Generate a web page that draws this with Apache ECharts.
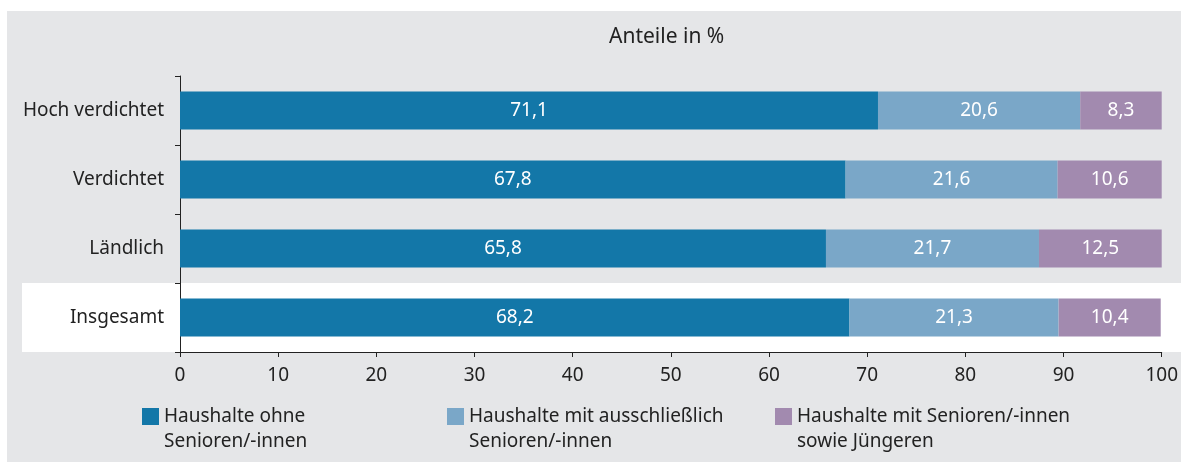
<!DOCTYPE html>
<html>
<head>
<meta charset="utf-8">
<script src="https://cdn.jsdelivr.net/npm/echarts@6/dist/echarts.min.js"></script>
<style>
  html, body { margin: 0; padding: 0; background: #fff; }
  #chart { width: 1181px; height: 462px; }
</style>
</head>
<body>
<div id="chart"></div>
<script>
// Kategorien (von oben nach unten)
var categories = ['Hoch verdichtet', 'Verdichtet', 'Ländlich', 'Insgesamt']
var seriesNames = [
  'Haushalte ohne\nSenioren/-innen',
  'Haushalte mit ausschließlich\nSenioren/-innen',
  'Haushalte mit Senioren/-innen\nsowie Jüngeren'
]
var ohneSenioren = [71.1, 67.8, 65.8, 68.2]
var nurSenioren = [20.6, 21.6, 21.7, 21.3]
var gemischt = [8.3, 10.6, 12.5, 10.4]
var xTicks = [0, 10, 20, 30, 40, 50, 60, 70, 80, 90, 100]

var colors = ['#1377a8', '#7aa7c8', '#a28aaf']
var textColor = '#222'
var fontFamily = '"Noto Sans", sans-serif'

var chart = echarts.init(document.getElementById('chart'))

function barSeries(name, data, color) {
  return {
    name: name,
    type: 'bar',
    stack: 'total',
    data: data,
    barWidth: 38,
    itemStyle: { color: color },
    label: {
      show: true,
      position: 'inside',
      color: '#fff',
      fontSize: 19,
      fontFamily: fontFamily,
      formatter: function (p) {
        return p.value.toFixed(1).replace('.', ',')
      }
    },
    animation: false
  }
}

// leere erste Zeile, damit das Quadrat auf Höhe der ersten Textzeile sitzt
function legendItem(name, left) {
  return {
    data: [{ name: name, icon: 'rect' }],
    left: left,
    top: 379,
    padding: 0,
    itemWidth: 17,
    itemHeight: 17,
    selectedMode: false,
    formatter: function (n) { return '\n' + n },
    textStyle: {
      color: textColor,
      fontSize: 19,
      fontFamily: fontFamily,
      lineHeight: 25
    }
  }
}

chart.setOption({
  animation: false,
  title: {
    text: 'Anteile in %',
    left: 609,
    top: 27,
    padding: 0,
    textStyle: {
      color: textColor,
      fontSize: 21,
      fontWeight: 'normal',
      fontFamily: fontFamily
    }
  },
  grid: {
    left: 180,
    right: 16,
    top: 76,
    bottom: 110
  },
  legend: [
    legendItem(seriesNames[0], 142),
    legendItem(seriesNames[1], 447),
    legendItem(seriesNames[2], 775)
  ],
  xAxis: {
    type: 'value',
    min: xTicks[0],
    max: xTicks[xTicks.length - 1],
    interval: 10,
    axisLine: { show: true, lineStyle: { color: '#222', width: 1 } },
    axisTick: { show: true, length: 5, lineStyle: { color: '#222' } },
    splitLine: { show: false },
    axisLabel: {
      color: textColor,
      fontSize: 19,
      fontFamily: fontFamily,
      margin: 14
    }
  },
  yAxis: {
    type: 'category',
    inverse: true,
    data: categories,
    axisLine: { show: true, lineStyle: { color: '#222', width: 1 } },
    axisTick: { show: true, length: 5, lineStyle: { color: '#222' } },
    axisLabel: {
      color: textColor,
      fontSize: 19,
      fontFamily: fontFamily,
      margin: 16
    }
  },
  series: [
    barSeries(seriesNames[0], ohneSenioren, colors[0]),
    barSeries(seriesNames[1], nurSenioren, colors[1]),
    barSeries(seriesNames[2], gemischt, colors[2])
  ]
})

// Hintergrund und weißes Band hinter "Insgesamt"
var yCenter = chart.convertToPixel({ yAxisIndex: 0 }, 'Insgesamt')
var yPrev = chart.convertToPixel({ yAxisIndex: 0 }, 'Ländlich')
var band = yCenter - yPrev
chart.setOption({
  graphic: [
    {
      type: 'rect',
      z: -10,
      shape: { x: 7, y: 11, width: 1181 - 7, height: 462 - 11 },
      style: { fill: '#e5e6e8' }
    },
    {
      type: 'rect',
      z: -9,
      shape: { x: 22, y: yCenter - band / 2, width: 1181 - 22, height: band },
      style: { fill: '#ffffff' }
    }
  ]
})
</script>
</body>
</html>
